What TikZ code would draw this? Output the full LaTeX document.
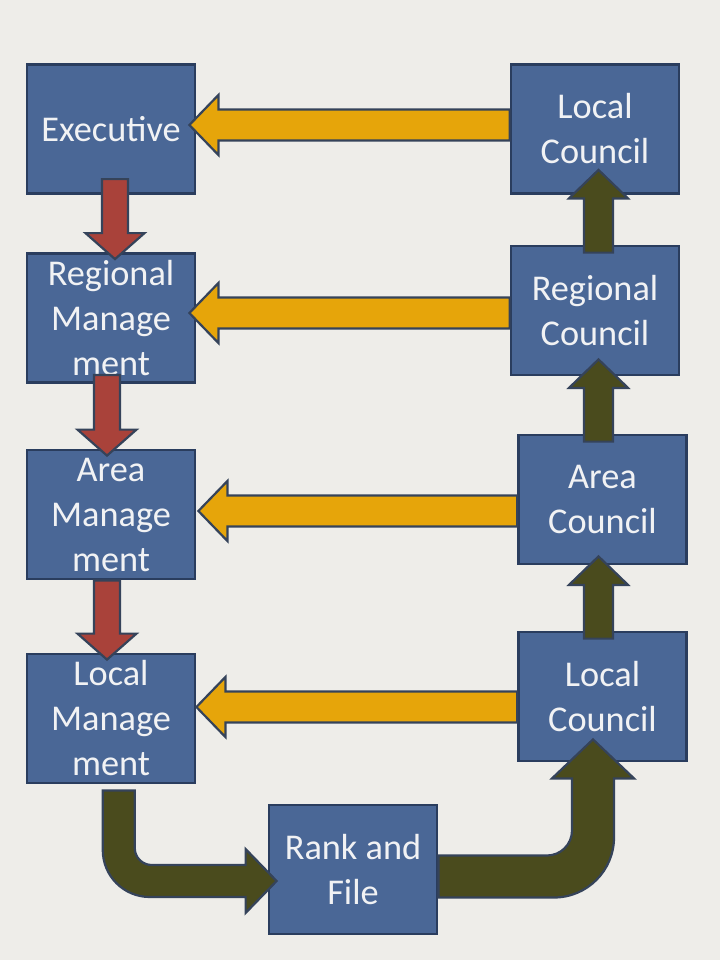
\documentclass[tikz,border=0pt]{standalone}
\usepackage{fontspec}
\setmainfont{Carlito}
\usetikzlibrary{calc}
\definecolor{bgc}{HTML}{EEEDE9}
\definecolor{boxfill}{HTML}{4A6796}
\definecolor{boxline}{HTML}{2A3D5E}
\definecolor{yelc}{HTML}{E6A50A}
\definecolor{redc}{HTML}{A9423A}
\definecolor{grnc}{HTML}{4A4B1D}
\definecolor{arrline}{HTML}{35435A}
\definecolor{txtc}{HTML}{F1F2F4}

\newcommand\blockleft[6]{%
  \coordinate (bt) at (#3 -| #2);
  \draw[#1] ($(bt)+(0,-#4)$) -- ($(#3)+(#6,-#4)$) -- ($(#3)+(#6,-#5)$) -- (#3)
    -- ($(#3)+(#6,#5)$) -- ($(#3)+(#6,#4)$) -- ($(bt)+(0,#4)$) -- cycle;}
\newcommand\blockdown[6]{%
  \coordinate (bt) at (#2 -| #3);
  \draw[#1] ($(bt)+(-#4,0)$) -- ($(#3)+(-#4,-#6)$) -- ($(#3)+(-#5,-#6)$) -- (#3)
    -- ($(#3)+(#5,-#6)$) -- ($(#3)+(#4,-#6)$) -- ($(bt)+(#4,0)$) -- cycle;}
\newcommand\blockup[6]{%
  \coordinate (bt) at (#2 -| #3);
  \draw[#1] ($(bt)+(-#4,0)$) -- ($(#3)+(-#4,#6)$) -- ($(#3)+(-#5,#6)$) -- (#3)
    -- ($(#3)+(#5,#6)$) -- ($(#3)+(#4,#6)$) -- ($(bt)+(#4,0)$) -- cycle;}

\begin{document}
\begin{tikzpicture}[x=1pt,y=-1pt,
  box/.style={draw=boxline, line width=2.8pt, fill=boxfill, minimum width=168pt,
    minimum height=129pt, inner sep=0pt, align=center, text=txtc,
    font=\fontsize{36.3}{45}\selectfont},
  yarr/.style={fill=yelc, draw=arrline, line width=2.2pt, line join=miter},
  rarr/.style={fill=redc, draw=arrline, line width=2.2pt, line join=miter},
  garr/.style={fill=grnc, draw=arrline, line width=2.2pt, line join=miter}]
\fill[bgc] (0,0) rectangle (720,960);
\useasboundingbox (0,0) rectangle (720,960);

% boxes
\node[box] (exec) at (111,128.75) {Executive};
\node[box] (rm) at (111,318) {Regional\\Manage\\ment};
\node[box] (am) at (111,514.5) {Area\\Manage\\ment};
\node[box] (lm) at (111,718.5) {Local\\Manage\\ment};
\node[box] (lc1) at (595,129) {Local\\Council};
\node[box] (rc) at (595,310.5) {Regional\\Council};
\node[box] (ac) at (602.5,499.5) {Area\\Council};
\node[box] (lc2) at (602.5,696.5) {Local\\Council};
\node[box] (rf) at (353,869.5) {Rank and\\File};

% yellow arrows (council -> management)
\coordinate (y1h) at ($(exec.east)+(-7,-3.75)$);
\coordinate (y2h) at ($(rm.east)+(-7,-5)$);
\coordinate (y3h) at ($(am.east)+(2,-3.5)$);
\coordinate (y4h) at ($(lm.east)+(0,-11.5)$);
\blockleft{yarr}{lc1.west}{y1h}{15.5}{30}{29}
\blockleft{yarr}{rc.west}{y2h}{15.5}{30}{29}
\blockleft{yarr}{ac.west}{y3h}{15.5}{30}{29}
\blockleft{yarr}{lc2.west}{y4h}{15.5}{30}{29}

% red arrows (management chain)
\coordinate (r1t) at ($(exec.south)+(4,-15.5)$);
\coordinate (r1h) at ($(rm.north)+(4,7)$);
\coordinate (r2t) at ($(rm.south)+(-4,-9)$);
\coordinate (r2h) at ($(am.north)+(-4,7)$);
\coordinate (r3t) at ($(am.south)+(-4,0)$);
\coordinate (r3h) at ($(lm.north)+(-4,7)$);
\blockdown{rarr}{r1t}{r1h}{13}{29.5}{26}
\blockdown{rarr}{r2t}{r2h}{13}{29.5}{26}
\blockdown{rarr}{r3t}{r3h}{13}{29.5}{26}

% green arrows (council chain)
\coordinate (g1t) at ($(rc.north)+(3.5,8)$);
\coordinate (g1h) at ($(lc1.south)+(3.5,-25)$);
\coordinate (g2t) at ($(ac.north)+(-4,8)$);
\coordinate (g2h) at ($(rc.south)+(3.5,-17)$);
\coordinate (g3t) at ($(lc2.north)+(-4,8)$);
\coordinate (g3h) at ($(ac.south)+(-4,-9)$);
\blockup{garr}{g1t}{g1h}{14.5}{29.5}{28.5}
\blockup{garr}{g2t}{g2h}{14.5}{29.5}{28.5}
\blockup{garr}{g3t}{g3h}{14.5}{29.5}{28.5}

% bent arrow: Local Management -> Rank and File
\coordinate (b1s) at ($(lm.south)+(7.75,6)$);
\coordinate (b1t) at ($(rf.west)+(9,11.5)$);
\coordinate (b1c) at (b1s |- b1t);
\draw[garr] ($(b1s)+(-16,0)$) -- ($(b1c)+(-16,-31)$)
  .. controls ($(b1c)+(-16,-5)$) and ($(b1c)+(5,16)$) .. ($(b1c)+(31,16)$)
  -- ($(b1t)+(-31,16)$) -- ($(b1t)+(-31,32)$) -- (b1t) -- ($(b1t)+(-31,-32)$)
  -- ($(b1t)+(-31,-16)$) -- ($(b1c)+(33,-16)$)
  .. controls ($(b1c)+(23.6,-16)$) and ($(b1c)+(16,-23.6)$) .. ($(b1c)+(16,-33)$)
  -- ($(b1s)+(16,0)$) -- cycle;

% bent arrow: Rank and File -> Local Council
\coordinate (b2s) at ($(rf.east)+(0,7)$);
\coordinate (b2t) at ($(lc2.south)+(-9.5,-23)$);
\coordinate (b2c) at (b2t |- b2s);
\draw[garr] ($(b2s)+(0,-21)$) -- ($(b2c)+(-46,-21)$)
  .. controls ($(b2c)+(-32.2,-21)$) and ($(b2c)+(-21,-32.2)$) .. ($(b2c)+(-21,-46)$)
  -- ($(b2t)+(-21,39)$) -- ($(b2t)+(-41,39)$) -- (b2t) -- ($(b2t)+(41,39)$)
  -- ($(b2t)+(21,39)$) -- ($(b2c)+(21,-39)$)
  .. controls ($(b2c)+(21,-5.9)$) and ($(b2c)+(-5.9,21)$) .. ($(b2c)+(-39,21)$)
  -- ($(b2s)+(0,21)$) -- cycle;
\end{tikzpicture}
\end{document}
